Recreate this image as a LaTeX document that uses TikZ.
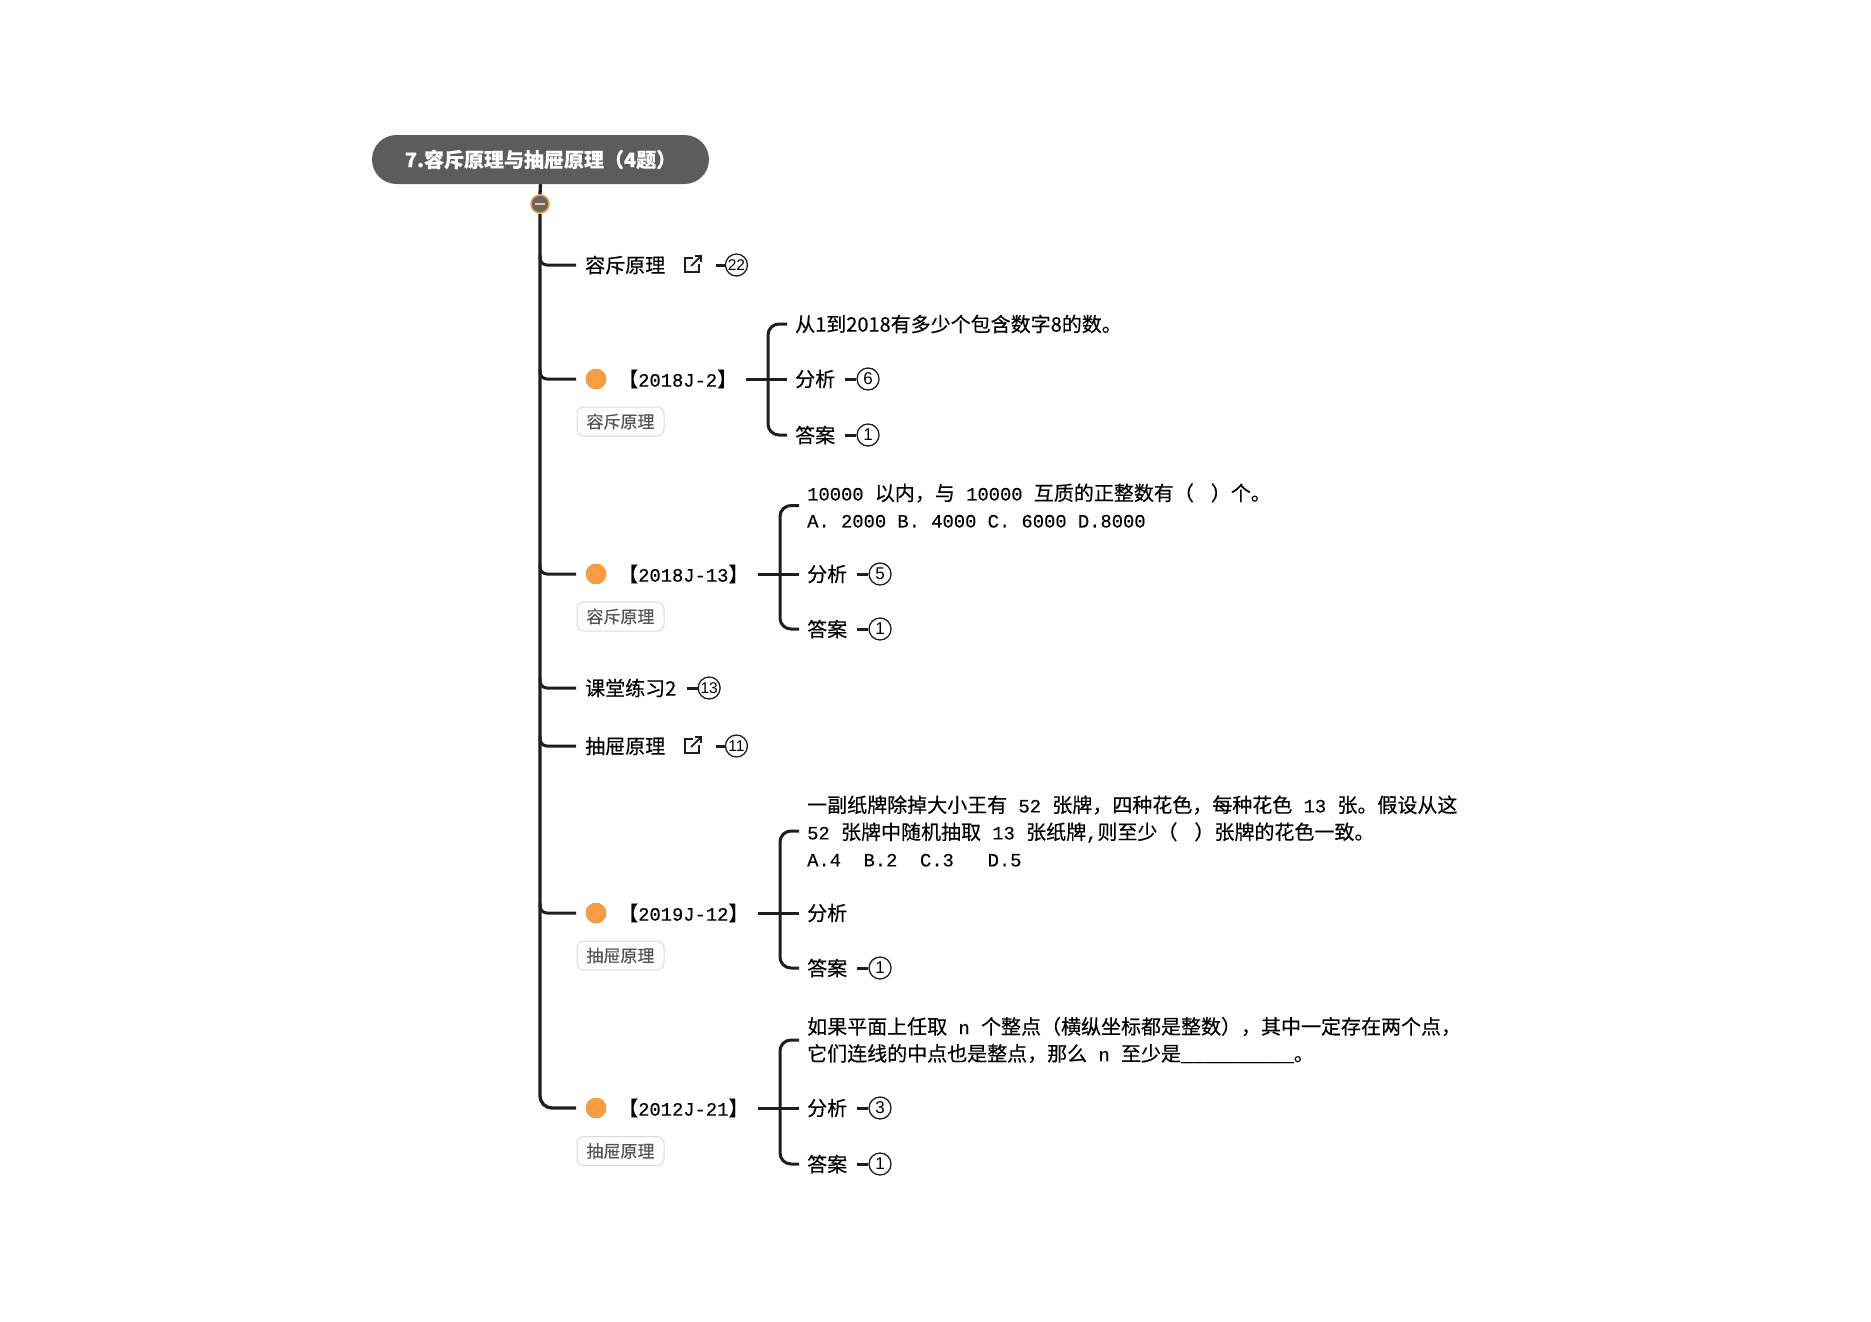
\documentclass[tikz,border=0pt]{standalone}
\usepackage{fontspec}
\setmainfont{Noto Sans CJK SC}[FakeBold=0.35]
\newfontfamily\mono{Liberation Mono}[Scale=0.94,FakeBold=0.3]
\newfontfamily\badgefont{Liberation Sans}
\usetikzlibrary{positioning,calc}
\definecolor{ln}{HTML}{1E1E1E}
\definecolor{titlebg}{HTML}{5C5C5C}
\definecolor{dotc}{HTML}{FA9C42}
\definecolor{dotb}{HTML}{EE8E34}
\definecolor{colfill}{HTML}{666666}
\definecolor{colring}{HTML}{F29A3C}
\definecolor{colbar}{HTML}{F5C48E}
\definecolor{tagline}{HTML}{DADADA}
\definecolor{tagtext}{HTML}{555555}
\begin{document}
\begin{tikzpicture}[x=1pt,y=-1pt,
  conn/.style={draw=ln,line width=3pt},
  trunkline/.style={draw=ln,line width=3.3pt},
  txt/.style={anchor=west,inner sep=0pt,font=\fontsize{20}{27}\selectfont,text=black,align=left},
  badge/.style={circle,draw=ln,line width=1.3pt,minimum size=22pt,inner sep=0pt,font=\badgefont\fontsize{17}{17}\selectfont},
  badgetwo/.style={badge,font=\badgefont\fontsize{15.5}{15.5}\selectfont},
  topicdot/.style={circle,fill=dotc,draw=dotb,line width=0.6pt,minimum size=20pt,inner sep=0pt},
  tagbox/.style={draw=tagline,line width=1pt,rounded corners=7pt,minimum width=87pt,minimum height=29pt,inner sep=0pt,text=tagtext,font=\fontsize{17}{17}\selectfont,fill=white},
  iconbox/.style={minimum width=17pt,minimum height=16pt,inner sep=0pt},
  linkicon/.pic={
    \draw[ln,line width=1.8pt] (0,-7) -- (-8,-7) -- (-8,7) -- (6,7) -- (6,-1);
    \draw[ln,line width=1.8pt] (-2,1) -- (8,-9);
    \draw[ln,line width=1.8pt] (2,-9) -- (8,-9) -- (8,-3);
  }
]
\useasboundingbox (0,0) rectangle (1871,1322);

% title and collapse control
\node[fill=titlebg,rounded corners=24.5pt,minimum width=337pt,minimum height=49pt,text=white,
      font=\fontsize{20}{20}\selectfont\bfseries,inner sep=0pt] (title) at (540.5,159.5) {7.容斥原理与抽屉原理（4题）};
\node[circle,fill=colfill,draw=colring,line width=1.5pt,minimum size=18pt,inner sep=0pt] (col) at (540,204) {};
\draw[colbar,line width=1.6pt] ($(col.center)+(-5,0)$) -- ($(col.center)+(5,0)$);

% trunk
\coordinate (c7) at (576,1108);
\draw[trunkline] (title.south) -- (col.north);
\draw[trunkline,rounded corners=12pt] (col.south) -- (540,1108) -- (c7);

% branch 1
\coordinate (k1) at (540,255); \coordinate (c1) at (576,265);
\draw[conn,rounded corners=7pt] (k1) -- (540,265) -- (c1);
\node[txt] (t1) at (585,265) {容斥原理};
\node[iconbox,right=19pt of t1] (i1) {};
\pic at (i1.center) {linkicon};
\node[badgetwo,right=23pt of i1] (n1) {22};
\draw[conn] ($(i1.east)+(14,0)$) -- (n1.west);

% branch 2
\coordinate (k2) at (540,369); \coordinate (c2) at (576,379);
\draw[conn,rounded corners=7pt] (k2) -- (540,379) -- (c2);
\node[topicdot] (d2) at (596,379) {};
\node[txt] (l2) at (618,379) {【{\mono 2018J-2}】};
\node[tagbox] (g2) at (620.5,421.5) {容斥原理};
\node[txt] (q2) at (795,324) {从1到2018有多少个包含数字8的数。};
\node[txt] (f2) at (795,379) {分析};
\node[txt] (a2) at (795,435) {答案};
\node[badge,right=21pt of f2] (bf2) {6};
\node[badge,right=21pt of a2] (ba2) {1};
\draw[conn] ($(f2.east)+(10,0)$) -- (bf2.west);
\draw[conn] ($(a2.east)+(10,0)$) -- (ba2.west);
\draw[conn,rounded corners=11pt] ($(q2.west)+(-8,0)$) -- ($(q2.west)+(-27,0)$) -- ($(a2.west)+(-27,0)$) -- ($(a2.west)+(-8,0)$);
\draw[conn] ($(l2.east)+(9,0)$) -- ($(f2.west)+(-8,0)$);

% branch 3
\coordinate (k3) at (540,564); \coordinate (c3) at (576,574);
\draw[conn,rounded corners=7pt] (k3) -- (540,574) -- (c3);
\node[topicdot] (d3) at (596,574) {};
\node[txt] (l3) at (618,574) {【{\mono 2018J-13}】};
\node[tagbox] (g3) at (620.5,616.5) {容斥原理};
\node[txt] (q3) at (807,505.5) {{\mono 10000 }以内，与{\mono\ 10000 }互质的正整数有（\hspace{17pt}）个。\\{\mono A.\ 2000 B.\ 4000 C.\ 6000 D.8000}};
\node[txt] (f3) at (807,574) {分析};
\node[txt] (a3) at (807,629) {答案};
\node[badge,right=21pt of f3] (bf3) {5};
\node[badge,right=21pt of a3] (ba3) {1};
\draw[conn] ($(f3.east)+(10,0)$) -- (bf3.west);
\draw[conn] ($(a3.east)+(10,0)$) -- (ba3.west);
\draw[conn,rounded corners=11pt] ($(q3.west)+(-8,0)$) -- ($(q3.west)+(-27,0)$) -- ($(a3.west)+(-27,0)$) -- ($(a3.west)+(-8,0)$);
\draw[conn] ($(l3.east)+(9,0)$) -- ($(f3.west)+(-8,0)$);

% branch 4
\coordinate (k4) at (540,678); \coordinate (c4) at (576,688);
\draw[conn,rounded corners=7pt] (k4) -- (540,688) -- (c4);
\node[txt] (t4) at (585,688) {课堂练习2};
\node[badgetwo,right=21pt of t4] (n4) {13};
\draw[conn] ($(t4.east)+(10,0)$) -- (n4.west);

% branch 5
\coordinate (k5) at (540,736); \coordinate (c5) at (576,746);
\draw[conn,rounded corners=7pt] (k5) -- (540,746) -- (c5);
\node[txt] (t5) at (585,746) {抽屉原理};
\node[iconbox,right=19pt of t5] (i5) {};
\pic at (i5.center) {linkicon};
\node[badgetwo,right=23pt of i5] (n5) {11};
\draw[conn] ($(i5.east)+(14,0)$) -- (n5.west);

% branch 6
\coordinate (k6) at (540,903); \coordinate (c6) at (576,913);
\draw[conn,rounded corners=7pt] (k6) -- (540,913) -- (c6);
\node[topicdot] (d6) at (596,913) {};
\node[txt] (l6) at (618,913) {【{\mono 2019J-12}】};
\node[tagbox] (g6) at (620.5,955.5) {抽屉原理};
\node[txt] (q6) at (807,831) {一副纸牌除掉大小王有{\mono\ 52 }张牌，四种花色，每种花色{\mono\ 13 }张。假设从这\\{\mono 52 }张牌中随机抽取{\mono\ 13 }张纸牌{\mono,}则至少（\hspace{17pt}）张牌的花色一致。\\{\mono A.4\ \ B.2\ \ C.3\ \ \ D.5}};
\node[txt] (f6) at (807,913) {分析};
\node[txt] (a6) at (807,968) {答案};
\node[badge,right=21pt of a6] (ba6) {1};
\draw[conn] ($(a6.east)+(10,0)$) -- (ba6.west);
\draw[conn,rounded corners=11pt] ($(q6.west)+(-8,0)$) -- ($(q6.west)+(-27,0)$) -- ($(a6.west)+(-27,0)$) -- ($(a6.west)+(-8,0)$);
\draw[conn] ($(l6.east)+(9,0)$) -- ($(f6.west)+(-8,0)$);

% branch 7
\node[topicdot] (d7) at (596,1108) {};
\node[txt] (l7) at (618,1108) {【{\mono 2012J-21}】};
\node[tagbox] (g7) at (620.5,1151) {抽屉原理};
\node[txt] (q7) at (807,1040) {如果平面上任取{\mono\ n }个整点（横纵坐标都是整数），其中一定存在两个点，\\它们连线的中点也是整点，那么{\mono\ n }至少是{\mono \_\_\_\_\_\_\_\_\_\_}。};
\node[txt] (f7) at (807,1108) {分析};
\node[txt] (a7) at (807,1164) {答案};
\node[badge,right=21pt of f7] (bf7) {3};
\node[badge,right=21pt of a7] (ba7) {1};
\draw[conn] ($(f7.east)+(10,0)$) -- (bf7.west);
\draw[conn] ($(a7.east)+(10,0)$) -- (ba7.west);
\draw[conn,rounded corners=11pt] ($(q7.west)+(-8,0)$) -- ($(q7.west)+(-27,0)$) -- ($(a7.west)+(-27,0)$) -- ($(a7.west)+(-8,0)$);
\draw[conn] ($(l7.east)+(9,0)$) -- ($(f7.west)+(-8,0)$);
\end{tikzpicture}
\end{document}
